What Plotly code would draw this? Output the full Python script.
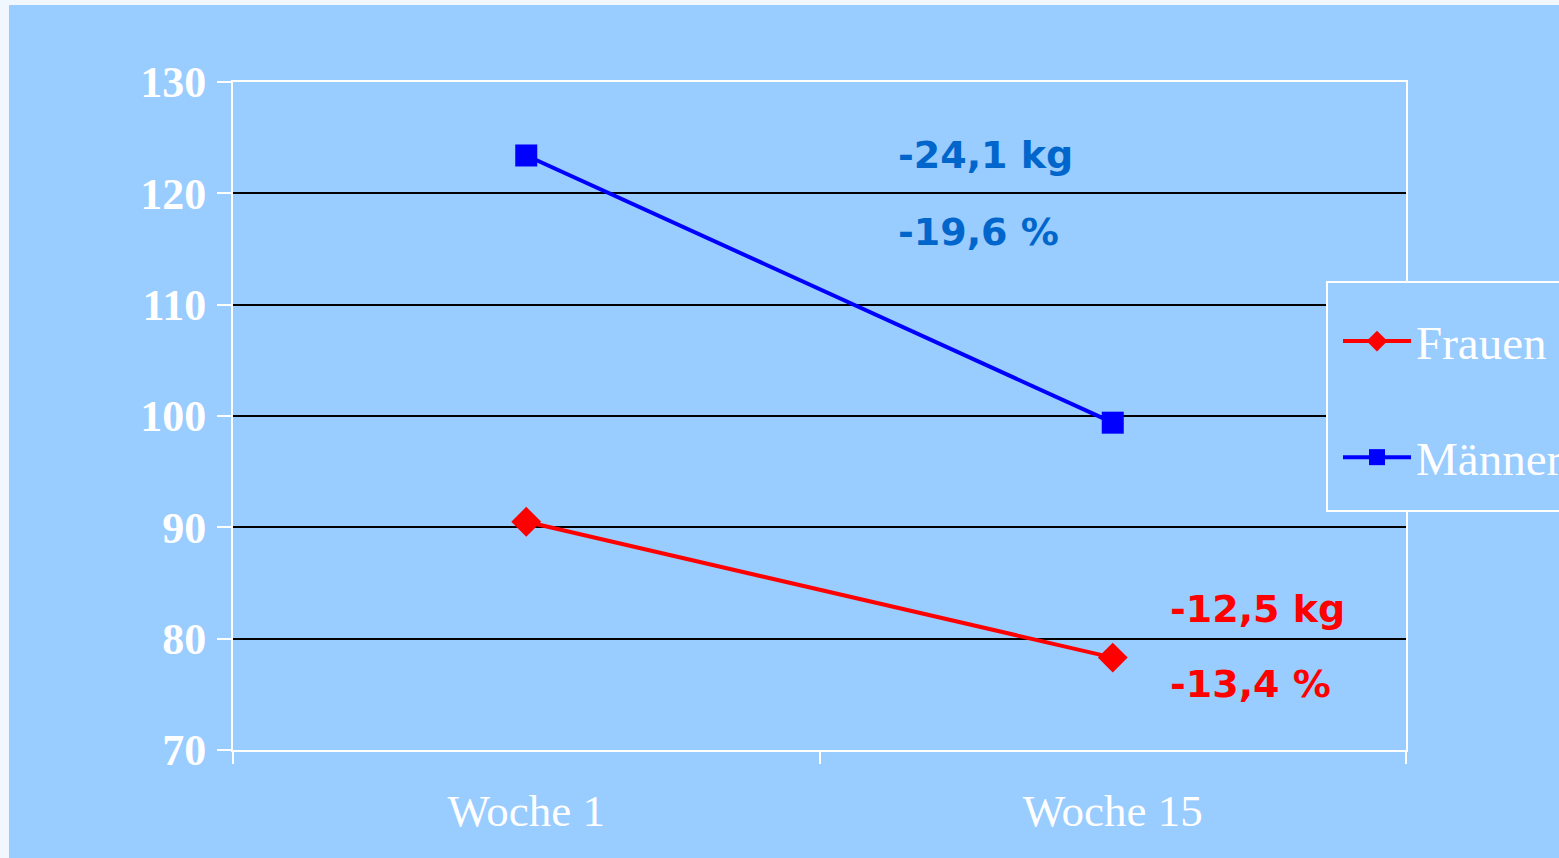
import plotly.graph_objects as go

categories = ["Woche 1", "Woche 15"]
frauen = [90.5, 78.3]
maenner = [123.4, 99.4]
y_ticks = [70, 80, 90, 100, 110, 120, 130]
notes_m = ["-24,1 kg", "-19,6 %"]
notes_f = ["-12,5 kg", "-13,4 %"]

W, H = 1559, 858
L, R, T, B = 233, 153, 82, 108
pw, ph = W - L - R, H - T - B

def px(x):
    return (x - L) / pw

def py(y):
    return (H - B - y) / ph

BG = "#99CCFF"

fig = go.Figure()
fig.add_trace(go.Scatter(
    x=categories, y=frauen, name="Frauen", mode="lines+markers",
    line=dict(color="#FF0000", width=4),
    marker=dict(symbol="diamond", size=23, color="#FF0000"),
    legendgroup="f",
))
fig.add_trace(go.Scatter(
    x=categories, y=maenner, name="Männer", mode="lines+markers",
    line=dict(color="#0000FF", width=4),
    marker=dict(symbol="square", size=22, color="#0000FF"),
    legendgroup="m",
))

anns = []
for i, t in enumerate(notes_m):
    anns.append(dict(text=t, x=px(896), y=py([155, 232][i]), xref="paper", yref="paper",
                     xanchor="left", yanchor="middle", showarrow=False,
                     font=dict(family="DejaVu Sans", size=38, color="#0066CC", weight="bold")))
for i, t in enumerate(notes_f):
    anns.append(dict(text=t, x=px(1168), y=py([609, 684][i]), xref="paper", yref="paper",
                     xanchor="left", yanchor="middle", showarrow=False,
                     font=dict(family="DejaVu Sans", size=38, color="#FF0000", weight="bold")))

fig.update_layout(
    width=W, height=H,
    margin=dict(l=L, r=R, t=T, b=B, autoexpand=False),
    paper_bgcolor="#F0F7FF",
    plot_bgcolor=BG,
    showlegend=True,
    legend=dict(
        x=px(1338), y=py(304), xanchor="left", yanchor="top",
        bgcolor="rgba(0,0,0,0)", borderwidth=0,
        font=dict(family="Liberation Serif", size=47, color="white"),
        traceorder="grouped", tracegroupgap=52, itemwidth=68,
        itemsizing="trace",
    ),
    annotations=anns,
    shapes=[
        dict(type="rect", xref="paper", yref="paper",
             x0=px(9), x1=px(W + 5), y0=py(H + 5), y1=py(5),
             fillcolor=BG, line=dict(width=0), layer="below"),
        dict(type="rect", xref="paper", yref="paper",
             x0=px(1327), x1=px(W + 10), y0=py(511), y1=py(282),
             fillcolor=BG, line=dict(color="white", width=2), layer="above"),
    ],
)

fig.update_xaxes(
    type="category", range=[-0.5, 1.5],
    showline=True, linecolor="white", linewidth=2, mirror=True,
    ticks="outside", tickson="boundaries", ticklen=12, tickcolor="white", tickwidth=2,
    showgrid=False, zeroline=False,
    tickfont=dict(family="Liberation Serif", size=45, color="white"),
    ticklabelstandoff=20,
)
fig.update_yaxes(
    range=[70, 130], tickvals=y_ticks,
    showline=True, linecolor="white", linewidth=2, mirror=True,
    ticks="outside", ticklen=14, tickcolor="white", tickwidth=2,
    showgrid=True, gridcolor="black", gridwidth=2, zeroline=False,
    tickfont=dict(family="Liberation Serif", size=44, color="white", weight="bold"),
    ticklabelstandoff=2,
)

fig.write_html("out.html", config={"displayModeBar": False},
               post_script="document.body.style.margin='0';document.body.style.overflow='hidden';")
